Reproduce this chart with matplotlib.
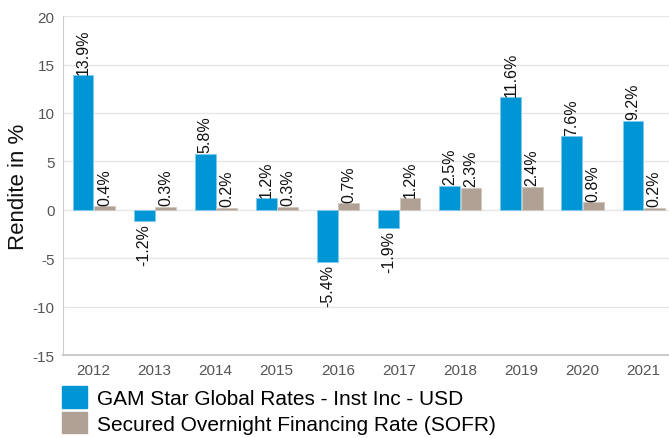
import numpy as np
import matplotlib
matplotlib.use("Agg")
import matplotlib.pyplot as plt
from matplotlib.patches import Patch

years = ['2012', '2013', '2014', '2015', '2016', '2017', '2018', '2019', '2020', '2021']
fund = [13.9, -1.2, 5.8, 1.2, -5.4, -1.9, 2.5, 11.6, 7.6, 9.2]
sofr = [0.4, 0.3, 0.2, 0.3, 0.7, 1.2, 2.3, 2.4, 0.8, 0.2]
fund_name = 'GAM Star Global Rates - Inst Inc - USD'
sofr_name = 'Secured Overnight Financing Rate (SOFR)'

blue = '#0096d6'
grey = '#b1a194'

plt.rcParams['font.family'] = ['Liberation Sans', 'DejaVu Sans']
plt.rcParams['axes.unicode_minus'] = False

fig = plt.figure(figsize=(6.69, 4.39), dpi=100)
ax = fig.add_axes([0.094, 0.189, 0.906, 0.772])

x = np.arange(len(years))
w = 0.34
b1 = ax.bar(x - w / 2, fund, w, color=blue, edgecolor='#7fcbed', linewidth=0.6, zorder=3)
b2 = ax.bar(x + w / 2 + 0.01, sofr, w, color=grey, edgecolor='#cfc6bd', linewidth=0.6, zorder=3)

for bars, vals in ((b1, fund), (b2, sofr)):
    for r, v in zip(bars, vals):
        cx = r.get_x() + r.get_width() / 2
        if v >= 0:
            ax.annotate('%.1f%%' % v, (cx, v), xytext=(0, 1), textcoords='offset points',
                        rotation=90, ha='center', va='bottom', fontsize=11.5, color='#111111')
        else:
            ax.annotate('%.1f%%' % v, (cx, v), xytext=(0, -1), textcoords='offset points',
                        rotation=90, ha='center', va='top', fontsize=11.5, color='#111111')

ax.set_ylim(-15, 20)
ax.set_yticks(range(-15, 21, 5))
ax.set_xlim(-0.5, 9.42)
ax.set_xticks(x)
ax.set_xticklabels(years)
ax.tick_params(axis='both', length=0, labelsize=11, colors='#555555', pad=6)
ax.yaxis.grid(True, color='#e6e6e6', linewidth=1, zorder=0)
ax.set_axisbelow(True)
for s in ('top', 'right'):
    ax.spines[s].set_visible(False)
ax.spines['left'].set_color('#cccccc')
ax.spines['bottom'].set_color('#cccccc')
ax.spines['bottom'].set_linewidth(1.5)
ax.set_ylabel('Rendite in %', fontsize=16, color='#111111')
ax.yaxis.set_label_coords(-0.056, 0.5)

handles = [Patch(color=blue), Patch(color=grey)]
fig.legend(handles, [fund_name, sofr_name], loc='upper left', bbox_to_anchor=(0.092, 0.118),
           frameon=False, fontsize=15, handlelength=1.2, handleheight=1.2,
           handletextpad=0.5, labelspacing=0.2, borderaxespad=0, borderpad=0)

fig.savefig('out.png', dpi=100)
